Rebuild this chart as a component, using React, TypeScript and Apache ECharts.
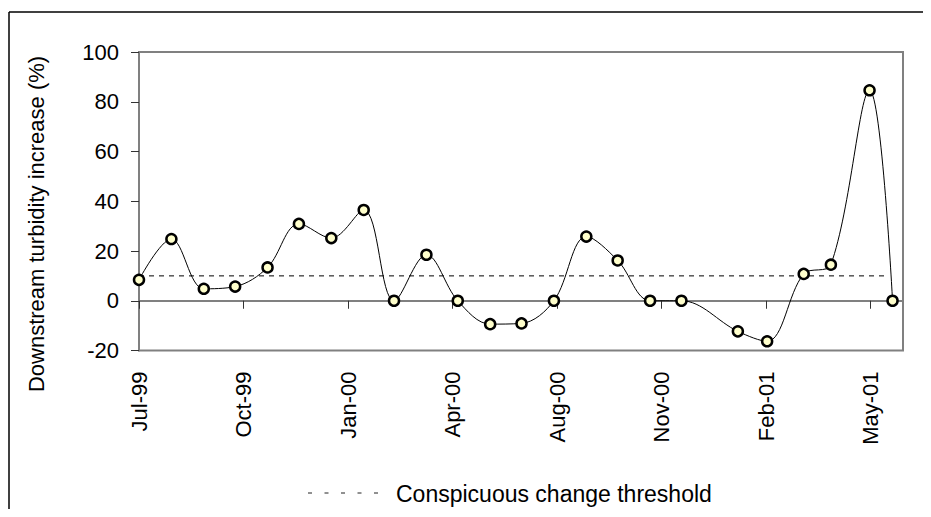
import { useEffect, useRef } from "react";
import * as echarts from "echarts";

// sampling dates and turbidity increase (%)
const sampleDates = [
  "1999-07-01", "1999-08-01", "1999-09-01", "1999-10-01", "1999-11-01", "1999-12-01",
  "2000-01-01", "2000-02-01", "2000-03-01", "2000-04-01", "2000-05-01", "2000-06-01",
  "2000-07-01", "2000-08-01", "2000-09-01", "2000-10-01", "2000-11-01", "2000-12-01",
  "2001-01-24", "2001-02-21", "2001-03-28", "2001-04-23", "2001-05-30", "2001-06-21",
];
const turbidityIncrease = [
  8.4, 24.8, 4.8, 5.7, 13.4, 30.9,
  25.2, 36.5, 0, 18.5, 0, -9.4,
  -9.1, 0, 25.8, 16.2, 0, 0,
  -12.3, -16.3, 10.8, 14.5, 84.6, 0,
];

const thresholdName = "Conspicuous change threshold";
const thresholdDates = ["1999-07-01", "2001-06-16"];
const thresholdValues = [10, 10];

const axisStart = "1999-07-01";
const axisEnd = "2001-07-01";
// Excel-style date axis: a tick every 100 days from the start
const xTickDays = [0, 100, 200, 300, 400, 500, 600, 700];
const monthNames = ["Jan", "Feb", "Mar", "Apr", "May", "Jun", "Jul", "Aug", "Sep", "Oct", "Nov", "Dec"];

const DAY = 86400000;
const toDay = (d: string) => (Date.parse(d) - Date.parse(axisStart)) / DAY;
const dayLabel = (v: number) => {
  const d = new Date(Date.parse(axisStart) + v * DAY);
  return monthNames[d.getUTCMonth()] + "-" + String(d.getUTCFullYear() % 100).padStart(2, "0");
};

const FONT = "Liberation Sans, Arial, sans-serif";
const W = 915;
const H = 501;

const App = () => {
  const chartRef = useRef<HTMLDivElement>(null);

  useEffect(() => {
    if (!chartRef.current) return;
    const chart = echarts.init(chartRef.current, null, { renderer: "svg" });
    chart.setOption({
      animation: false,
      textStyle: { fontFamily: FONT, color: "#000" },
      grid: {
        left: 131,
        right: 20,
        top: 44,
        bottom: 158.5,
        show: true,
        borderColor: "#808080",
        borderWidth: 2,
        backgroundColor: "#fff",
      },
      graphic: [
        // outer chart frame: left edge and top edge
        {
          type: "line",
          shape: { x1: 1, y1: 4, x2: 1, y2: H },
          style: { stroke: "#000", lineWidth: 1.5 },
          silent: true,
        },
        {
          type: "line",
          shape: { x1: 1, y1: 4, x2: W, y2: 4 },
          style: { stroke: "#000", lineWidth: 1.5 },
          silent: true,
        },
        {
          type: "text",
          x: 28,
          y: 216,
          rotation: Math.PI / 2,
          style: {
            text: "Downstream turbidity increase (%)",
            fontFamily: FONT,
            fontSize: 22,
            fill: "#000",
            align: "center",
            verticalAlign: "middle",
          },
        },
        // legend
        {
          type: "line",
          shape: { x1: 300, y1: 485, x2: 381, y2: 485 },
          style: { stroke: "#222", lineWidth: 1, lineDash: [4, 12.5] },
          silent: true,
        },
        {
          type: "text",
          x: 388,
          y: 486,
          style: {
            text: thresholdName,
            fontFamily: FONT,
            fontSize: 23,
            fill: "#000",
            align: "left",
            verticalAlign: "middle",
          },
        },
      ],
      xAxis: {
        type: "value",
        min: 0,
        max: toDay(axisEnd),
        axisLine: { lineStyle: { color: "#808080", width: 2 } },
        axisTick: {
          customValues: xTickDays,
          length: 8,
          lineStyle: { color: "#333", width: 1 },
        },
        axisLabel: {
          customValues: xTickDays,
          rotate: 90,
          margin: 21,
          fontSize: 22,
          fontFamily: FONT,
          color: "#000",
          formatter: (v: number) => dayLabel(v),
        },
        splitLine: { show: false },
      },
      yAxis: {
        type: "value",
        min: -20,
        max: 100,
        interval: 20,
        axisLine: { show: true, lineStyle: { color: "#808080", width: 2 } },
        axisTick: { show: true, length: 8, lineStyle: { color: "#333", width: 1 } },
        axisLabel: { margin: 20, fontSize: 22, fontFamily: FONT, color: "#000" },
        splitLine: { show: false },
      },
      series: [
        {
          name: thresholdName,
          type: "line",
          data: thresholdDates.map((d, i) => [toDay(d), thresholdValues[i]]),
          symbol: "none",
          lineStyle: { color: "#000", width: 1, type: [5, 5] },
          z: 1,
        },
        {
          name: "Turbidity",
          type: "line",
          data: sampleDates.map((d, i) => [toDay(d), turbidityIncrease[i]]),
          smooth: 0.35,
          symbol: "circle",
          symbolSize: 10,
          lineStyle: { color: "#000", width: 1 },
          itemStyle: { color: "#FFFFCC", borderColor: "#000", borderWidth: 2.5 },
          z: 3,
        },
      ],
    });
    return () => {
      chart.dispose();
    };
  }, []);

  return <div ref={chartRef} style={{ width: W + "px", height: H + "px" }}></div>;
};

export default App;
